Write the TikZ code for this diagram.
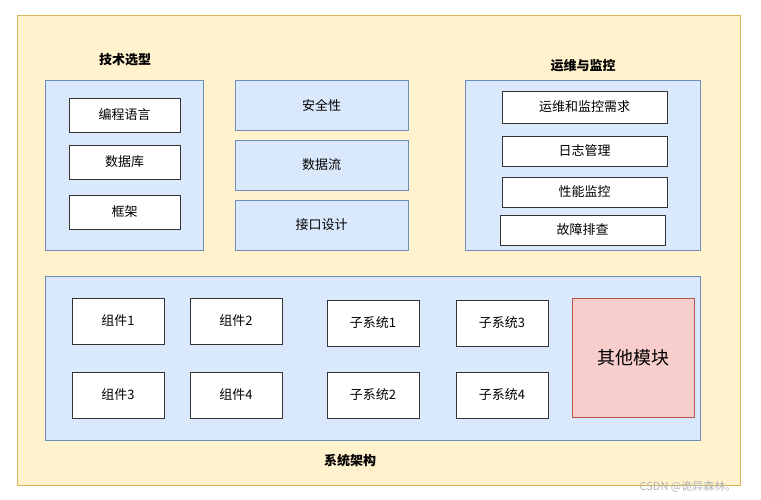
\documentclass[tikz,border=0pt]{standalone}
\usepackage{fontspec}
\setmainfont{Noto Sans CJK SC}
\usepackage{tikz}
\definecolor{bgfill}{HTML}{FFF2CC}
\definecolor{bgline}{HTML}{D6B656}
\definecolor{bluefill}{HTML}{DAE8FC}
\definecolor{blueline}{HTML}{6C8EBF}
\definecolor{redfill}{HTML}{F8CECC}
\definecolor{redline}{HTML}{B85450}
\tikzset{
  panel/.style={draw=blueline, fill=bluefill, inner sep=0pt},
  item/.style={draw=black!80, fill=white, inner sep=0pt, font=\fontsize{13}{15}\selectfont},
  blueitem/.style={panel, font=\fontsize{13}{15}\selectfont},
  title/.style={font=\fontsize{13}{15}\selectfont\bfseries}
}
\begin{document}
\begin{tikzpicture}[x=1pt,y=-1pt]
        \useasboundingbox (0,0) rectangle (761,500);
        \node (frame) [draw=bgline, fill=bgfill, minimum width=723pt, minimum height=470pt] at (378.5,250) {};
        % top row
        \node (tech) [panel, minimum width=158pt, minimum height=170pt] at (124,165) {};
        \node (techT) [title] at (125,60) {技术选型};
        \node (lang) [item, minimum width=111pt, minimum height=34pt] at (124.5,115) {编程语言};
        \node (db) [item, minimum width=111pt, minimum height=34pt] at (124.5,162) {数据库};
        \node (fw) [item, minimum width=111pt, minimum height=34pt] at (124.5,212) {框架};
        \node (sec) [blueitem, minimum width=173pt, minimum height=50pt] at (321.5,105) {安全性};
        \node (flow) [blueitem, minimum width=173pt, minimum height=50pt] at (321.5,165) {数据流};
        \node (api) [blueitem, minimum width=173pt, minimum height=50pt] at (321.5,225) {接口设计};
        \node (ops) [panel, minimum width=235pt, minimum height=170pt] at (582.5,165) {};
        \node (opsT) [title] at (583,66) {运维与监控};
        \node (req) [item, minimum width=165pt, minimum height=32pt] at (584.5,107) {运维和监控需求};
        \node (log) [item, minimum width=165pt, minimum height=30pt] at (584.5,151) {日志管理};
        \node (perf) [item, minimum width=165pt, minimum height=30pt] at (584.5,192) {性能监控};
        \node (fault) [item, minimum width=165pt, minimum height=30pt] at (582.5,230) {故障排查};
        % bottom
        \node (arch) [panel, minimum width=655pt, minimum height=164pt] at (372.5,358) {};
        \node (archT) [title] at (350,461) {系统架构};
        \node (c1) [item, minimum width=92pt, minimum height=46pt] at (118,321) {组件1};
        \node (c2) [item, minimum width=92pt, minimum height=46pt] at (236,321) {组件2};
        \node (c3) [item, minimum width=92pt, minimum height=46pt] at (118,395) {组件3};
        \node (c4) [item, minimum width=92pt, minimum height=46pt] at (236,395) {组件4};
        \node (s1) [item, minimum width=92pt, minimum height=46pt] at (373,323) {子系统1};
        \node (s3) [item, minimum width=92pt, minimum height=46pt] at (502,323) {子系统3};
        \node (s2) [item, minimum width=92pt, minimum height=46pt] at (373,395) {子系统2};
        \node (s4) [item, minimum width=92pt, minimum height=46pt] at (502,395) {子系统4};
        \node (other) [draw=redline, fill=redfill, inner sep=0pt, minimum width=122pt, minimum height=119pt,
          font=\fontsize{18}{21}\selectfont] at (633,357.5) {其他模块};
        \node (mark) [text=black!30, font=\fontsize{11}{13}\selectfont] at (688,487) {CSDN @诡异森林。};
\end{tikzpicture}
\end{document}
